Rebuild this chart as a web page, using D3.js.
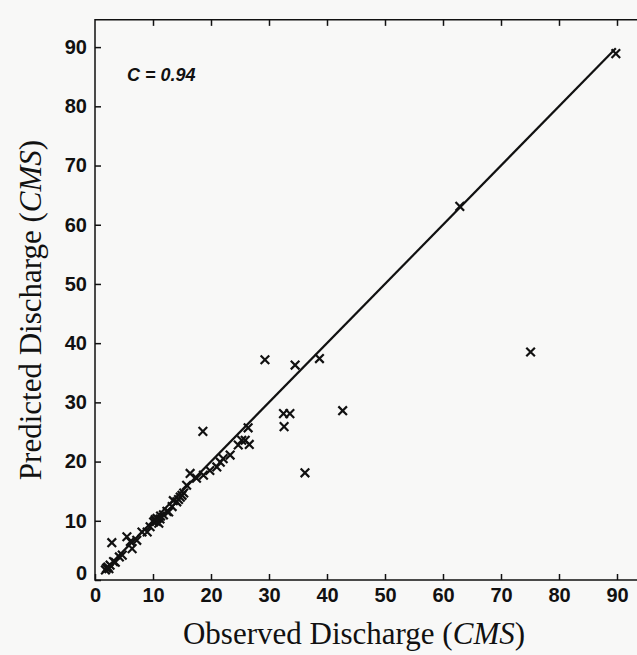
<!DOCTYPE html>
<html>
<head>
<meta charset="utf-8">
<script src="https://cdn.jsdelivr.net/npm/d3@7"></script>
<style>
  body { margin: 0; background: #f8f8f7; }
  svg { display: block; }
  .tick text { font-family: "Liberation Sans", Arial, sans-serif; font-weight: bold; font-size: 20px; fill: #111; }
  .title { font-family: "Liberation Serif", "Times New Roman", serif; font-size: 31px; fill: #111; }
</style>
</head>
<body>
<script>
// observed vs predicted discharge (CMS)
var observed = [2.9, 1.8, 2.0, 2.2, 2.4, 2.6, 3.2, 3.5, 4.2, 4.7, 5.5, 6.1, 6.4, 7.2, 8.1, 9.0,
  9.5, 10.1, 10.3, 10.4, 10.6, 10.7, 11.0, 11.2, 11.3, 11.8, 12.4, 12.7, 13.3, 13.5, 14.1, 14.4,
  14.7, 15.0, 15.3, 15.8, 16.4, 17.5, 18.7, 18.6, 19.8, 21.0, 21.6, 22.1, 23.3, 24.7, 25.3, 25.9,
  26.4, 26.6, 29.3, 32.5, 32.6, 33.6, 34.5, 36.2, 38.7, 42.7, 62.9, 75.1, 89.8];
var predicted = [6.3, 1.7, 2.0, 2.2, 1.9, 2.5, 3.1, 3.0, 3.9, 4.2, 7.3, 6.5, 5.3, 6.7, 8.1, 8.1,
  9.0, 9.8, 10.0, 10.2, 9.9, 10.4, 9.6, 10.3, 10.8, 11.0, 11.6, 11.5, 12.4, 13.4, 13.2, 13.6,
  14.0, 14.3, 14.7, 16.0, 18.0, 17.2, 17.7, 25.1, 18.5, 19.1, 19.9, 20.5, 21.1, 22.8, 23.6, 23.6,
  25.7, 22.9, 37.2, 28.1, 25.9, 28.1, 36.3, 18.1, 37.4, 28.6, 63.1, 38.5, 88.9];
var ticks = [0, 10, 20, 30, 40, 50, 60, 70, 80, 90];
var lineEnds = [1.5, 89.8];
var corrLabel = "C = 0.94";

var width = 637, height = 655;

var x = d3.scaleLinear().domain([0, 95]).range([95, 646]);
var y = d3.scaleLinear().domain([0, 95]).range([580, 17.5]);

var svg = d3.select('body').append('svg').attr('width', width).attr('height', height);

// frame
svg.append('path')
  .attr('d', 'M' + x(95) + ',' + y(94.6) + 'H' + x(0) + 'V' + y(0) + 'H' + x(95))
  .attr('fill', 'none').attr('stroke', '#111').attr('stroke-width', 1.5);

var xAxis = svg.append('g').attr('transform', 'translate(0,' + y(0) + ')')
  .call(d3.axisBottom(x).tickValues(ticks).tickSizeInner(-6).tickSizeOuter(0).tickPadding(8));
var yAxis = svg.append('g').attr('transform', 'translate(' + x(0) + ',0)')
  .call(d3.axisLeft(y).tickValues(ticks).tickSizeInner(-6).tickSizeOuter(0).tickPadding(8));
var topAxis = svg.append('g').attr('transform', 'translate(0,' + y(94.6) + ')')
  .call(d3.axisTop(x).tickValues(ticks.slice(1)).tickSizeInner(-6).tickSizeOuter(0).tickFormat(''));

[xAxis, yAxis, topAxis].forEach(function (g) {
  g.select('.domain').remove();
  g.selectAll('line').attr('stroke', '#111').attr('stroke-width', 1.5);
});
xAxis.selectAll('text').attr('dy', '0.71em');
yAxis.selectAll('.tick').filter(function (d) { return d === 0; }).select('text')
  .attr('dy', '-0.05em');

// 1:1 line
svg.append('line')
  .attr('x1', x(lineEnds[0])).attr('y1', y(lineEnds[0]))
  .attr('x2', x(lineEnds[1])).attr('y2', y(lineEnds[1]))
  .attr('stroke', '#111').attr('stroke-width', 2.2);

// x markers
var s = 4.3;
svg.selectAll('.pt').data(observed).enter().append('path')
  .attr('class', 'pt')
  .attr('d', function (d, i) {
    var cx = x(d), cy = y(predicted[i]);
    return 'M' + (cx - s) + ',' + (cy - s) + 'L' + (cx + s) + ',' + (cy + s) +
      'M' + (cx - s) + ',' + (cy + s) + 'L' + (cx + s) + ',' + (cy - s);
  })
  .attr('stroke', '#111').attr('stroke-width', 2.2).attr('fill', 'none');

svg.append('text')
  .attr('x', 127).attr('y', 81)
  .style('font-family', '"Liberation Sans", Arial, sans-serif')
  .style('font-weight', 'bold').style('font-style', 'italic').style('font-size', '18px')
  .attr('fill', '#111')
  .text(corrLabel);

// axis titles
var xt = svg.append('text').attr('class', 'title')
  .attr('x', 354).attr('y', 644).attr('text-anchor', 'middle');
xt.append('tspan').text('Observed Discharge (');
xt.append('tspan').style('font-style', 'italic').text('CMS');
xt.append('tspan').text(')');

var yt = svg.append('text').attr('class', 'title')
  .attr('transform', 'translate(41,310) rotate(-90)').attr('text-anchor', 'middle');
yt.append('tspan').text('Predicted Discharge (');
yt.append('tspan').style('font-style', 'italic').text('CMS');
yt.append('tspan').text(')');
</script>
</body>
</html>
